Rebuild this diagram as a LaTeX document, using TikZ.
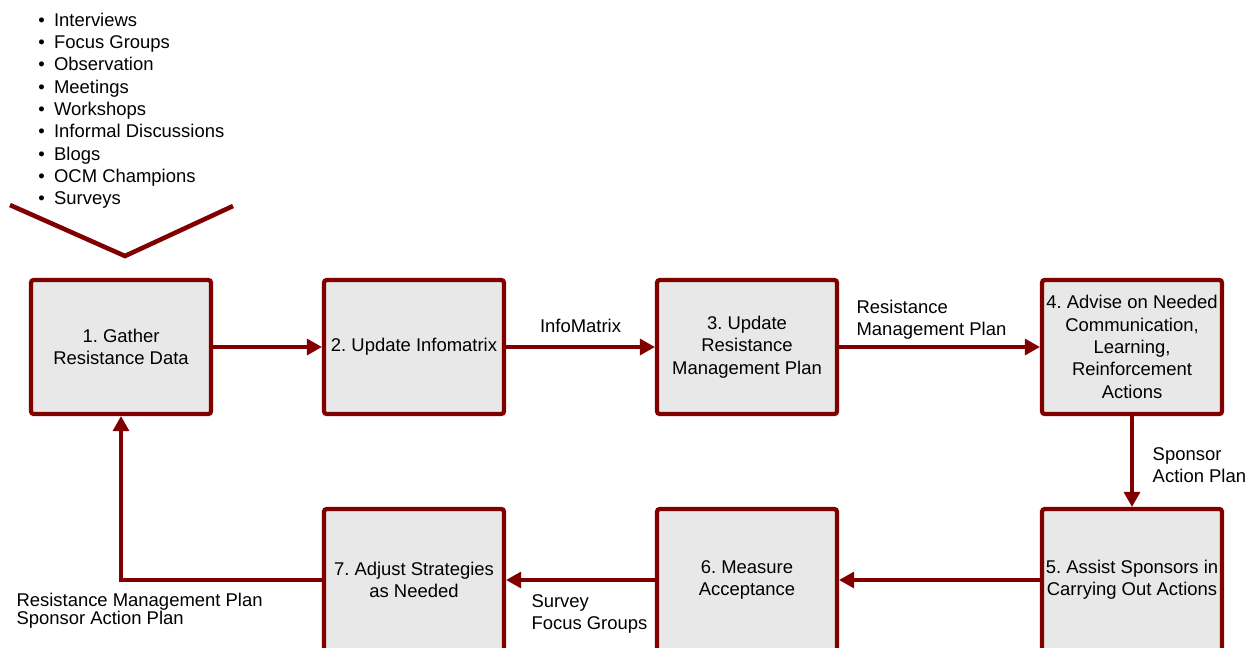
\documentclass[tikz,border=0pt]{standalone}
\usepackage{fontspec}
\setmainfont{Liberation Sans}
\usetikzlibrary{arrows.meta,positioning}
\definecolor{darkred}{RGB}{128,0,0}
\definecolor{boxgray}{RGB}{232,232,232}
\newcommand{\itm}{\textbullet\hspace{5.3pt}}
\frenchspacing

\begin{document}
\begin{tikzpicture}[x=0.02cm,y=-0.02cm,
  every node/.style={font=\fontsize{10.5}{12.7}\selectfont},
  stage/.style={draw=darkred, line width=2.4pt, fill=boxgray, rounded corners=1.5pt,
    minimum width=3.6cm, minimum height=2.68cm, align=center, inner sep=1pt},
  low stage/.style={stage, minimum height=2.84cm},
  flow/.style={draw=darkred, line width=1.8pt, -{Triangle[length=0.3cm,width=0.32cm]}},
  note/.style={align=left, inner sep=3.5pt}]
\useasboundingbox (0,0) rectangle (1253,647);
\clip (0,0) rectangle (1253,647);
% sources of resistance data
\node[anchor=north west, align=left, inner sep=0pt,
  font=\fontsize{10.5}{12.7}\selectfont] (methods) at (38,12.5)
  {\itm Interviews\\ \itm Focus Groups\\ \itm Observation\\ \itm Meetings\\
   \itm Workshops\\ \itm Informal Discussions\\ \itm Blogs\\ \itm OCM Champions\\
   \itm Surveys};
\draw[darkred, line width=2.6pt] (10,205) -- (125,256) -- (233,206);
% top row
\node[stage] (s1) at (121,347) {1. Gather\\Resistance Data};
\node[stage] (s2) at (414,347) {2. Update Infomatrix};
\node[stage] (s3) at (747,347) {3. Update\\Resistance\\Management Plan};
\node[stage] (s4) at (1132,347) {4. Advise on Needed\\Communication,\\Learning,\\Reinforcement\\Actions};
% bottom row
\node[low stage] (s5) at (1132,580) {5. Assist Sponsors in\\Carrying Out Actions};
\node[low stage] (s6) at (747,580) {6. Measure\\Acceptance};
\node[low stage] (s7) at (414,580) {7. Adjust Strategies\\as Needed};
% connectors
\draw[flow] (s1) -- (s2);
\draw[flow] (s2) -- node[above=4pt] {InfoMatrix} (s3);
\draw[flow] (s3) -- node[note, above, pos=0.46] {Resistance\\Management Plan} (s4);
\draw[flow] (s4) -- node[note, right=0.26cm, yshift=-2pt] {Sponsor\\Action Plan} (s5);
\draw[flow] (s5) -- (s6);
\draw[flow] (s6) -- node[note, below=0.14cm, pos=0.44] {Survey\\Focus Groups} (s7);
\draw[flow] (s7.west) -| (s1.south);
\node[note, anchor=north west, font=\fontsize{10.5}{10.2}\selectfont] (plans) at (10,587)
  {Resistance Management Plan\\Sponsor Action Plan};
\end{tikzpicture}
\end{document}
